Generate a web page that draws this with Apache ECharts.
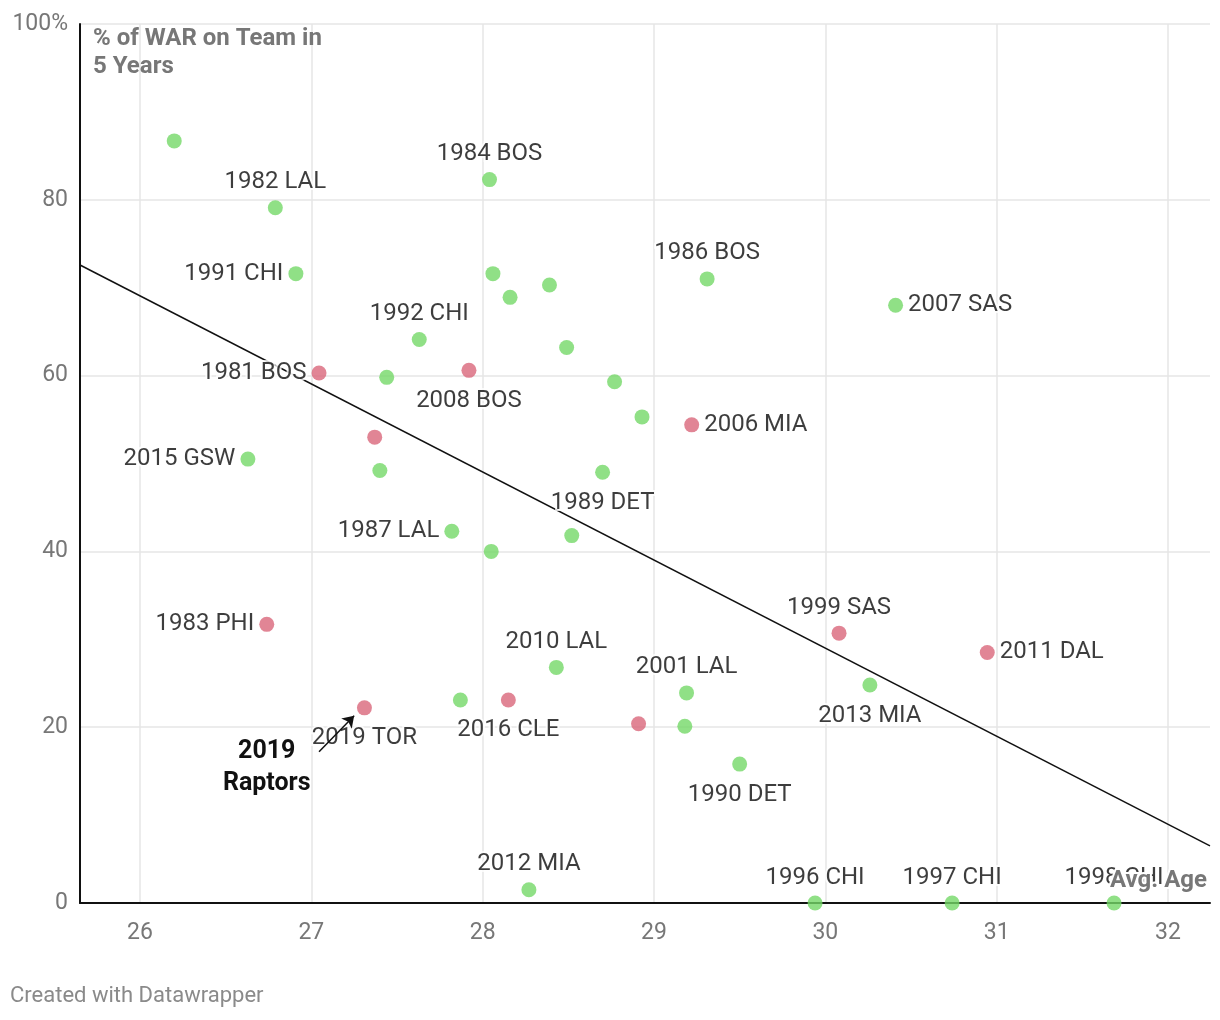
<!DOCTYPE html>
<html>
<head>
<meta charset="utf-8">
<script src="https://cdn.jsdelivr.net/npm/echarts@6/dist/echarts.min.js"></script>
<style>
html,body{margin:0;padding:0;background:#fff;}
#chart{width:1220px;height:1020px;}
</style>
</head>
<body>
<div id="chart"></div>
<script>
// ---- data ----
const teams = ['', '1982 LAL', '1991 CHI', '1981 BOS', '', '', '', '1992 CHI', '2008 BOS', '1984 BOS',
  '', '', '', '', '', '', '2006 MIA', '1986 BOS', '2007 SAS', '2015 GSW',
  '1989 DET', '1987 LAL', '', '', '1983 PHI', '1999 SAS', '2011 DAL', '2013 MIA', '2010 LAL', '2001 LAL',
  '2019 TOR', '', '2016 CLE', '', '', '1990 DET', '2012 MIA', '1996 CHI', '1997 CHI', '1998 CHI'];
const avgAge = [26.20, 26.79, 26.91, 27.045, 27.37, 27.40, 27.44, 27.63, 27.92, 28.04,
  28.06, 28.16, 28.39, 28.49, 28.77, 28.93, 29.22, 29.31, 30.41, 26.63,
  28.70, 27.82, 28.05, 28.52, 26.74, 30.08, 30.945, 30.26, 28.43, 29.19,
  27.31, 27.87, 28.15, 28.91, 29.18, 29.50, 28.27, 29.94, 30.74, 31.685];
const pctWar = [86.7, 79.1, 71.6, 60.3, 53.0, 49.2, 59.8, 64.1, 60.6, 82.3,
  71.6, 68.9, 70.3, 63.2, 59.3, 55.3, 54.4, 71.0, 68.0, 50.5,
  49.0, 42.3, 40.0, 41.8, 31.7, 30.7, 28.5, 24.8, 26.8, 23.9,
  22.2, 23.1, 23.1, 20.4, 20.1, 15.8, 1.5, 0, 0, 0];
const group = ['g','g','g','r','r','g','g','g','r','g',
  'g','g','g','g','g','g','r','g','g','g',
  'g','g','g','g','r','r','r','g','g','g',
  'r','g','r','r','g','g','g','g','g','g'];
const trendAge = [25.65, 32.245];
const trendPct = [72.58, 6.49];
const xTicks = [26, 27, 28, 29, 30, 31, 32];
const arrowFrom = [27.045, 17.2];
const arrowTo = [27.25, 21.3];
const annoAt = [26.74, 15.35];

// ---- styles ----
const COLORS = { g: '#74d868', r: '#d9677a' };
const labelSide = {
  '1982 LAL':'top','1991 CHI':'left','1981 BOS':'left','1992 CHI':'top','2008 BOS':'bottom',
  '1984 BOS':'top','2006 MIA':'right','1986 BOS':'top','2007 SAS':'right','2015 GSW':'left',
  '1989 DET':'bottom','1987 LAL':'left','1983 PHI':'left','1999 SAS':'top','2011 DAL':'right',
  '2013 MIA':'bottom','2010 LAL':'top','2001 LAL':'top','2019 TOR':'bottom','2016 CLE':'bottom',
  '1990 DET':'bottom','2012 MIA':'top','1996 CHI':'top','1997 CHI':'top','1998 CHI':'top'
};
const FONT = 'Roboto, "Noto Sans", sans-serif';

const points = avgAge.map((a, i) => {
  const name = teams[i];
  const side = labelSide[name] || 'top';
  const dist = side === 'bottom' ? 11 : (side === 'top' ? 6 : 5);
  return {
    value: [a, pctWar[i]],
    name: name,
    itemStyle: { color: COLORS[group[i]] },
    label: { show: !!name, position: side, distance: dist }
  };
});

const chart = echarts.init(document.getElementById('chart'), null, { renderer: 'canvas' });
const baseGraphic = [
  { type: 'text', left: 93, top: 25, z: 100,
    style: { text: '% of WAR on Team in\n5 Years', fill: '#777', font: 'bold 24px ' + FONT, lineHeight: 28 } },
  { type: 'text', right: 11, top: 867, z: 100,
    style: { text: 'Avg. Age', fill: '#777', font: 'bold 24px ' + FONT, stroke: '#fff', lineWidth: 4 } },
  { type: 'text', left: 10, top: 985, z: 100,
    style: { text: 'Created with Datawrapper', fill: '#8a8a8a', font: '22px ' + FONT } }
];
const option = {
  animation: false,
  backgroundColor: '#fff',
  grid: { left: 80, right: 10, top: 24, bottom: 117, containLabel: false },
  xAxis: {
    type: 'value', min: 25.65, max: 32.245,
    axisLine: { show: true, onZero: false, lineStyle: { color: '#111', width: 2 } },
    axisTick: { show: false, customValues: xTicks },
    axisLabel: { customValues: xTicks, color: '#777', fontSize: 23, fontFamily: FONT, margin: 19 },
    splitLine: { show: true, lineStyle: { color: '#e6e6e6', width: 1.5 } }
  },
  yAxis: {
    type: 'value', min: 0, max: 100, interval: 20,
    axisLine: { show: true, onZero: false, lineStyle: { color: '#111', width: 2 } },
    axisTick: { show: false },
    axisLabel: { color: '#777', fontSize: 23, fontFamily: FONT, margin: 12,
      formatter: v => v === 100 ? '100%' : String(v) },
    splitLine: { show: true, lineStyle: { color: '#e6e6e6', width: 1.5 } }
  },
  series: [
    {
      type: 'line', z: 1,
      data: trendAge.map((a, i) => [a, trendPct[i]]),
      symbol: 'none', lineStyle: { color: '#111', width: 1.5 },
      silent: true,
      markLine: {
        silent: true, symbol: ['none', 'arrow'], symbolSize: 11,
        lineStyle: { color: '#111', width: 1.5, type: 'solid' },
        label: { show: false },
        data: [[{ coord: arrowFrom }, { coord: arrowTo }]]
      }
    },
    {
      type: 'scatter', z: 3, clip: false,
      symbolSize: 15,
      data: points,
      label: {
        formatter: p => p.name,
        color: '#0d0d0d', fontSize: 24, fontFamily: FONT,
        textBorderColor: '#fff', textBorderWidth: 4
      },
      labelLayout: { hideOverlap: false }
    }
  ],
  graphic: baseGraphic
};
chart.setOption(option);

// annotation text placed in data coordinates
const annoPos = chart.convertToPixel({ gridIndex: 0 }, annoAt);
chart.setOption({
  graphic: baseGraphic.concat([
    { type: 'text', x: annoPos[0], y: annoPos[1], z: 100,
      style: { text: '2019\nRaptors', fill: '#111', font: 'bold 25px ' + FONT, lineHeight: 32,
        align: 'center', verticalAlign: 'middle' } }
  ])
});
</script>
</body>
</html>
